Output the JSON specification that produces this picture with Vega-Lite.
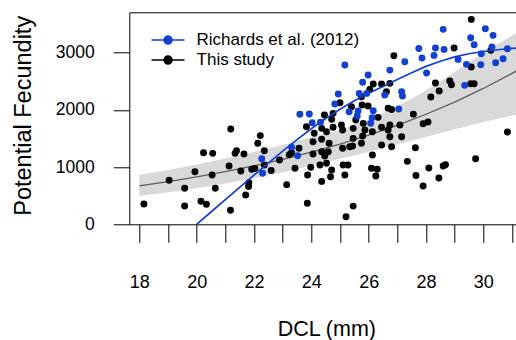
{
  "$schema": "https://vega.github.io/schema/vega-lite/v6.json",
  "autosize": {"type": "none"},
  "padding": {"left": 129.3, "top": 12.3, "right": 0, "bottom": 115.7},
  "width": 386.7,
  "height": 212,
  "background": "white",
  "config": {
    "view": {"stroke": null},
    "font": "Liberation Sans",
    "axis": {"grid": false, "domainColor": "black", "tickColor": "black", "labelColor": "black", "titleColor": "black", "titleFontWeight": "normal", "domainWidth": 1, "tickWidth": 1, "labelFont": "Liberation Sans", "titleFont": "Liberation Sans"}
  },
  "datasets": {
    "fecundity": [
      {"dcl": 18.16, "fecundity": 355, "study": "This study"},
      {"dcl": 19.04, "fecundity": 769, "study": "This study"},
      {"dcl": 19.58, "fecundity": 629, "study": "This study"},
      {"dcl": 19.58, "fecundity": 320, "study": "This study"},
      {"dcl": 19.94, "fecundity": 919, "study": "This study"},
      {"dcl": 20.15, "fecundity": 402, "study": "This study"},
      {"dcl": 20.24, "fecundity": 1251, "study": "This study"},
      {"dcl": 20.34, "fecundity": 349, "study": "This study"},
      {"dcl": 20.54, "fecundity": 861, "study": "This study"},
      {"dcl": 20.56, "fecundity": 1240, "study": "This study"},
      {"dcl": 20.65, "fecundity": 629, "study": "This study"},
      {"dcl": 21.13, "fecundity": 1018, "study": "This study"},
      {"dcl": 21.19, "fecundity": 1665, "study": "This study"},
      {"dcl": 21.18, "fecundity": 245, "study": "This study"},
      {"dcl": 21.34, "fecundity": 1240, "study": "This study"},
      {"dcl": 21.39, "fecundity": 1286, "study": "This study"},
      {"dcl": 21.54, "fecundity": 931, "study": "This study"},
      {"dcl": 21.65, "fecundity": 1228, "study": "This study"},
      {"dcl": 21.71, "fecundity": 512, "study": "This study"},
      {"dcl": 21.82, "fecundity": 727, "study": "This study"},
      {"dcl": 21.81, "fecundity": 660, "study": "This study"},
      {"dcl": 21.92, "fecundity": 961, "study": "This study"},
      {"dcl": 22.03, "fecundity": 975, "study": "This study"},
      {"dcl": 22.13, "fecundity": 1415, "study": "This study"},
      {"dcl": 22.22, "fecundity": 1550, "study": "This study"},
      {"dcl": 22.36, "fecundity": 1286, "study": "This study"},
      {"dcl": 22.36, "fecundity": 1036, "study": "This study"},
      {"dcl": 22.60, "fecundity": 940, "study": "This study"},
      {"dcl": 22.89, "fecundity": 1123, "study": "This study"},
      {"dcl": 23.14, "fecundity": 693, "study": "This study"},
      {"dcl": 23.23, "fecundity": 1215, "study": "This study"},
      {"dcl": 23.31, "fecundity": 1251, "study": "This study"},
      {"dcl": 23.43, "fecundity": 978, "study": "This study"},
      {"dcl": 23.57, "fecundity": 1328, "study": "This study"},
      {"dcl": 23.83, "fecundity": 1705, "study": "This study"},
      {"dcl": 24.10, "fecundity": 1590, "study": "This study"},
      {"dcl": 24.06, "fecundity": 1443, "study": "This study"},
      {"dcl": 24.06, "fecundity": 1228, "study": "This study"},
      {"dcl": 23.98, "fecundity": 996, "study": "This study"},
      {"dcl": 23.87, "fecundity": 861, "study": "This study"},
      {"dcl": 23.86, "fecundity": 367, "study": "This study"},
      {"dcl": 24.36, "fecundity": 1485, "study": "This study"},
      {"dcl": 24.36, "fecundity": 1268, "study": "This study"},
      {"dcl": 24.30, "fecundity": 1036, "study": "This study"},
      {"dcl": 24.36, "fecundity": 750, "study": "This study"},
      {"dcl": 24.46, "fecundity": 1909, "study": "This study"},
      {"dcl": 24.36, "fecundity": 1677, "study": "This study"},
      {"dcl": 26.88, "fecundity": 2945, "study": "This study"},
      {"dcl": 26.16, "fecundity": 2451, "study": "This study"},
      {"dcl": 26.45, "fecundity": 2451, "study": "This study"},
      {"dcl": 26.74, "fecundity": 2463, "study": "This study"},
      {"dcl": 26.62, "fecundity": 2317, "study": "This study"},
      {"dcl": 26.04, "fecundity": 2358, "study": "This study"},
      {"dcl": 25.75, "fecundity": 2229, "study": "This study"},
      {"dcl": 25.77, "fecundity": 2084, "study": "This study"},
      {"dcl": 25.98, "fecundity": 2067, "study": "This study"},
      {"dcl": 25.00, "fecundity": 2124, "study": "This study"},
      {"dcl": 25.40, "fecundity": 2054, "study": "This study"},
      {"dcl": 24.76, "fecundity": 1939, "study": "This study"},
      {"dcl": 24.71, "fecundity": 1834, "study": "This study"},
      {"dcl": 24.76, "fecundity": 1695, "study": "This study"},
      {"dcl": 25.05, "fecundity": 1735, "study": "This study"},
      {"dcl": 25.09, "fecundity": 1647, "study": "This study"},
      {"dcl": 25.55, "fecundity": 1822, "study": "This study"},
      {"dcl": 25.46, "fecundity": 1677, "study": "This study"},
      {"dcl": 25.81, "fecundity": 1764, "study": "This study"},
      {"dcl": 25.87, "fecundity": 1647, "study": "This study"},
      {"dcl": 26.13, "fecundity": 1618, "study": "This study"},
      {"dcl": 25.46, "fecundity": 1502, "study": "This study"},
      {"dcl": 25.79, "fecundity": 1543, "study": "This study"},
      {"dcl": 25.75, "fecundity": 1415, "study": "This study"},
      {"dcl": 24.53, "fecundity": 1618, "study": "This study"},
      {"dcl": 24.62, "fecundity": 1415, "study": "This study"},
      {"dcl": 24.59, "fecundity": 1268, "study": "This study"},
      {"dcl": 24.47, "fecundity": 1193, "study": "This study"},
      {"dcl": 24.53, "fecundity": 1066, "study": "This study"},
      {"dcl": 25.09, "fecundity": 1328, "study": "This study"},
      {"dcl": 25.44, "fecundity": 1368, "study": "This study"},
      {"dcl": 25.34, "fecundity": 1356, "study": "This study"},
      {"dcl": 26.13, "fecundity": 1211, "study": "This study"},
      {"dcl": 25.11, "fecundity": 1036, "study": "This study"},
      {"dcl": 25.28, "fecundity": 1036, "study": "This study"},
      {"dcl": 25.17, "fecundity": 861, "study": "This study"},
      {"dcl": 24.71, "fecundity": 948, "study": "This study"},
      {"dcl": 24.67, "fecundity": 832, "study": "This study"},
      {"dcl": 26.10, "fecundity": 978, "study": "This study"},
      {"dcl": 26.30, "fecundity": 961, "study": "This study"},
      {"dcl": 26.25, "fecundity": 844, "study": "This study"},
      {"dcl": 26.45, "fecundity": 1695, "study": "This study"},
      {"dcl": 26.74, "fecundity": 1735, "study": "This study"},
      {"dcl": 26.68, "fecundity": 1647, "study": "This study"},
      {"dcl": 26.45, "fecundity": 1385, "study": "This study"},
      {"dcl": 26.74, "fecundity": 1530, "study": "This study"},
      {"dcl": 26.80, "fecundity": 1356, "study": "This study"},
      {"dcl": 27.09, "fecundity": 1735, "study": "This study"},
      {"dcl": 27.15, "fecundity": 1530, "study": "This study"},
      {"dcl": 27.35, "fecundity": 1100, "study": "This study"},
      {"dcl": 27.63, "fecundity": 1338, "study": "This study"},
      {"dcl": 27.65, "fecundity": 852, "study": "This study"},
      {"dcl": 25.46, "fecundity": 318, "study": "This study"},
      {"dcl": 25.21, "fecundity": 133, "study": "This study"},
      {"dcl": 26.68, "fecundity": 2030, "study": "This study"},
      {"dcl": 26.80, "fecundity": 2005, "study": "This study"},
      {"dcl": 26.33, "fecundity": 1869, "study": "This study"},
      {"dcl": 27.56, "fecundity": 1925, "study": "This study"},
      {"dcl": 29.58, "fecundity": 3581, "study": "This study"},
      {"dcl": 28.98, "fecundity": 3080, "study": "This study"},
      {"dcl": 29.58, "fecundity": 2748, "study": "This study"},
      {"dcl": 30.26, "fecundity": 3040, "study": "This study"},
      {"dcl": 28.33, "fecundity": 2468, "study": "This study"},
      {"dcl": 28.46, "fecundity": 2329, "study": "This study"},
      {"dcl": 28.17, "fecundity": 2224, "study": "This study"},
      {"dcl": 28.83, "fecundity": 2503, "study": "This study"},
      {"dcl": 28.89, "fecundity": 2439, "study": "This study"},
      {"dcl": 29.56, "fecundity": 2456, "study": "This study"},
      {"dcl": 29.68, "fecundity": 2456, "study": "This study"},
      {"dcl": 27.90, "fecundity": 1757, "study": "This study"},
      {"dcl": 28.07, "fecundity": 1787, "study": "This study"},
      {"dcl": 28.10, "fecundity": 984, "study": "This study"},
      {"dcl": 27.90, "fecundity": 669, "study": "This study"},
      {"dcl": 28.45, "fecundity": 809, "study": "This study"},
      {"dcl": 28.60, "fecundity": 1018, "study": "This study"},
      {"dcl": 28.68, "fecundity": 1041, "study": "This study"},
      {"dcl": 29.73, "fecundity": 1146, "study": "This study"},
      {"dcl": 30.84, "fecundity": 1612, "study": "This study"},
      {"dcl": 22.27, "fecundity": 1146, "study": "Richards et al. (2012)"},
      {"dcl": 22.30, "fecundity": 891, "study": "Richards et al. (2012)"},
      {"dcl": 23.31, "fecundity": 1345, "study": "Richards et al. (2012)"},
      {"dcl": 23.52, "fecundity": 1198, "study": "Richards et al. (2012)"},
      {"dcl": 23.60, "fecundity": 1922, "study": "Richards et al. (2012)"},
      {"dcl": 23.93, "fecundity": 1927, "study": "Richards et al. (2012)"},
      {"dcl": 24.03, "fecundity": 1775, "study": "Richards et al. (2012)"},
      {"dcl": 24.32, "fecundity": 1782, "study": "Richards et al. (2012)"},
      {"dcl": 25.17, "fecundity": 2783, "study": "Richards et al. (2012)"},
      {"dcl": 25.98, "fecundity": 2608, "study": "Richards et al. (2012)"},
      {"dcl": 25.79, "fecundity": 2481, "study": "Richards et al. (2012)"},
      {"dcl": 24.94, "fecundity": 2276, "study": "Richards et al. (2012)"},
      {"dcl": 24.82, "fecundity": 2102, "study": "Richards et al. (2012)"},
      {"dcl": 25.67, "fecundity": 2288, "study": "Richards et al. (2012)"},
      {"dcl": 25.93, "fecundity": 2288, "study": "Richards et al. (2012)"},
      {"dcl": 26.74, "fecundity": 2695, "study": "Richards et al. (2012)"},
      {"dcl": 27.26, "fecundity": 2841, "study": "Richards et al. (2012)"},
      {"dcl": 27.75, "fecundity": 3072, "study": "Richards et al. (2012)"},
      {"dcl": 26.56, "fecundity": 2259, "study": "Richards et al. (2012)"},
      {"dcl": 27.15, "fecundity": 2317, "study": "Richards et al. (2012)"},
      {"dcl": 27.18, "fecundity": 2241, "study": "Richards et al. (2012)"},
      {"dcl": 27.05, "fecundity": 2014, "study": "Richards et al. (2012)"},
      {"dcl": 25.32, "fecundity": 1967, "study": "Richards et al. (2012)"},
      {"dcl": 25.63, "fecundity": 1979, "study": "Richards et al. (2012)"},
      {"dcl": 25.60, "fecundity": 1892, "study": "Richards et al. (2012)"},
      {"dcl": 26.16, "fecundity": 1985, "study": "Richards et al. (2012)"},
      {"dcl": 26.12, "fecundity": 1862, "study": "Richards et al. (2012)"},
      {"dcl": 26.07, "fecundity": 1764, "study": "Richards et al. (2012)"},
      {"dcl": 28.60, "fecundity": 3407, "study": "Richards et al. (2012)"},
      {"dcl": 27.86, "fecundity": 2905, "study": "Richards et al. (2012)"},
      {"dcl": 28.33, "fecundity": 3080, "study": "Richards et al. (2012)"},
      {"dcl": 28.28, "fecundity": 2952, "study": "Richards et al. (2012)"},
      {"dcl": 28.63, "fecundity": 3057, "study": "Richards et al. (2012)"},
      {"dcl": 28.02, "fecundity": 2643, "study": "Richards et al. (2012)"},
      {"dcl": 29.12, "fecundity": 2882, "study": "Richards et al. (2012)"},
      {"dcl": 29.41, "fecundity": 2795, "study": "Richards et al. (2012)"},
      {"dcl": 29.35, "fecundity": 2428, "study": "Richards et al. (2012)"},
      {"dcl": 29.56, "fecundity": 3260, "study": "Richards et al. (2012)"},
      {"dcl": 29.68, "fecundity": 3138, "study": "Richards et al. (2012)"},
      {"dcl": 30.07, "fecundity": 3417, "study": "Richards et al. (2012)"},
      {"dcl": 30.34, "fecundity": 3302, "study": "Richards et al. (2012)"},
      {"dcl": 29.93, "fecundity": 2980, "study": "Richards et al. (2012)"},
      {"dcl": 29.91, "fecundity": 2788, "study": "Richards et al. (2012)"},
      {"dcl": 30.30, "fecundity": 3097, "study": "Richards et al. (2012)"},
      {"dcl": 30.43, "fecundity": 2823, "study": "Richards et al. (2012)"},
      {"dcl": 30.69, "fecundity": 2893, "study": "Richards et al. (2012)"},
      {"dcl": 30.84, "fecundity": 3068, "study": "Richards et al. (2012)"}
    ],
    "studyFit": [
      {"dcl": 18.0, "fit": 670, "lower": 495, "upper": 860},
      {"dcl": 19.0, "fit": 745, "lower": 560, "upper": 950},
      {"dcl": 20.0, "fit": 827, "lower": 630, "upper": 1045},
      {"dcl": 21.0, "fit": 919, "lower": 715, "upper": 1150},
      {"dcl": 22.0, "fit": 1021, "lower": 810, "upper": 1262},
      {"dcl": 23.0, "fit": 1135, "lower": 910, "upper": 1385},
      {"dcl": 24.0, "fit": 1261, "lower": 1025, "upper": 1520},
      {"dcl": 25.0, "fit": 1401, "lower": 1145, "upper": 1650},
      {"dcl": 26.0, "fit": 1557, "lower": 1270, "upper": 1825},
      {"dcl": 27.0, "fit": 1730, "lower": 1400, "upper": 2060},
      {"dcl": 28.0, "fit": 1923, "lower": 1530, "upper": 2340},
      {"dcl": 29.0, "fit": 2136, "lower": 1660, "upper": 2660},
      {"dcl": 30.0, "fit": 2374, "lower": 1790, "upper": 3000},
      {"dcl": 31.0, "fit": 2638, "lower": 1900, "upper": 3300},
      {"dcl": 31.14, "fit": 2676, "lower": 1915, "upper": 3345}
    ],
    "richardsFit": [
      {"dcl": 20.0, "fit": 0},
      {"dcl": 20.5, "fit": 215},
      {"dcl": 21.0, "fit": 430},
      {"dcl": 21.5, "fit": 645},
      {"dcl": 22.0, "fit": 860},
      {"dcl": 22.5, "fit": 1070},
      {"dcl": 23.0, "fit": 1280},
      {"dcl": 23.5, "fit": 1480},
      {"dcl": 24.0, "fit": 1670},
      {"dcl": 24.5, "fit": 1850},
      {"dcl": 25.0, "fit": 2010},
      {"dcl": 25.5, "fit": 2160},
      {"dcl": 26.0, "fit": 2290},
      {"dcl": 26.5, "fit": 2410},
      {"dcl": 27.0, "fit": 2530},
      {"dcl": 27.5, "fit": 2650},
      {"dcl": 28.0, "fit": 2760},
      {"dcl": 28.5, "fit": 2850},
      {"dcl": 29.0, "fit": 2925},
      {"dcl": 29.5, "fit": 2980},
      {"dcl": 30.0, "fit": 3020},
      {"dcl": 30.5, "fit": 3050},
      {"dcl": 31.0, "fit": 3075},
      {"dcl": 31.14, "fit": 3080}
    ]
  },
  "resolve": {"axis": {"x": "independent"}},
  "layer": [
    {
      "data": {"name": "studyFit"},
      "mark": {"type": "area", "color": "#d9d9d9", "clip": true},
      "encoding": {
        "x": {"field": "dcl", "type": "quantitative",
              "scale": {"domain": [17.65, 31.14], "nice": false, "zero": false},
              "axis": {"orient": "top", "ticks": false, "labels": false, "title": null, "domain": true}},
        "y": {"field": "lower", "type": "quantitative",
              "scale": {"domain": [0, 3705], "nice": false, "zero": false},
              "axis": {"values": [0, 500, 1000, 1500, 2000, 2500, 3000, 3500], "format": "d", "labelOverlap": false, "tickSize": 16, "labelFontSize": 17.5, "labelPadding": 19, "title": "Potential Fecundity", "titleFontSize": 23.5, "titleX": -99, "titleY": 103, "titleAngle": -90, "titleBaseline": "alphabetic", "titleAlign": "center"}},
        "y2": {"field": "upper"}
      }
    },
    {
      "data": {"name": "studyFit"},
      "mark": {"type": "line", "color": "#5c5c5c", "strokeWidth": 1.3, "clip": true},
      "encoding": {
        "x": {"field": "dcl", "type": "quantitative",
              "axis": {"orient": "bottom", "values": [18, 19, 20, 21, 22, 23, 24, 25, 26, 27, 28, 29, 30, 31], "labelExpr": "datum.value % 2 == 0 ? datum.label : ''", "labelFlush": false, "labelOverlap": false, "tickSize": 18, "labelFontSize": 18, "labelBaseline": "alphabetic", "labelPadding": 45, "title": "DCL (mm)", "titleFontSize": 21.5, "titleBaseline": "alphabetic", "titleY": 111.5, "titleX": 197}},
        "y": {"field": "fit", "type": "quantitative"}
      }
    },
    {
      "data": {"name": "fecundity"},
      "transform": [{"filter": "datum.study == 'This study'"}],
      "mark": {"type": "point", "filled": true, "opacity": 1, "size": 48, "shape": "circle"},
      "encoding": {
        "x": {"field": "dcl", "type": "quantitative", "axis": null},
        "y": {"field": "fecundity", "type": "quantitative"},
        "color": {"field": "study", "type": "nominal",
                  "scale": {"domain": ["Richards et al. (2012)", "This study"], "range": ["#1240d0", "#000000"]},
                  "legend": {"orient": "none", "legendX": 30.25, "legendY": 19.3, "title": null, "padding": 0,
                             "symbolType": "M-3.3,0H3.3M-0.8,0A0.8,0.8,0,1,0,0.8,0A0.8,0.8,0,1,0,-0.8,0Z",
                             "symbolSize": 100, "symbolStrokeWidth": 1.5, "symbolOpacity": 1,
                             "labelFontSize": 17, "labelLimit": 400, "labelColor": "black", "labelFont": "Liberation Sans", "labelOffset": 20, "rowPadding": 2,
                             "encode": {"symbols": {"update": {"stroke": {"scale": "color", "field": "value"}, "fill": {"scale": "color", "field": "value"}}}}}}
      }
    },
    {
      "data": {"name": "fecundity"},
      "transform": [{"filter": "datum.study != 'This study'"}],
      "mark": {"type": "point", "filled": true, "opacity": 1, "size": 48, "shape": "circle"},
      "encoding": {
        "x": {"field": "dcl", "type": "quantitative", "axis": null},
        "y": {"field": "fecundity", "type": "quantitative"},
        "color": {"field": "study", "type": "nominal"}
      }
    },
    {
      "data": {"name": "richardsFit"},
      "mark": {"type": "line", "color": "#1240d0", "strokeWidth": 1.7, "clip": true},
      "encoding": {
        "x": {"field": "dcl", "type": "quantitative", "axis": null},
        "y": {"field": "fit", "type": "quantitative"}
      }
    }
  ]
}
